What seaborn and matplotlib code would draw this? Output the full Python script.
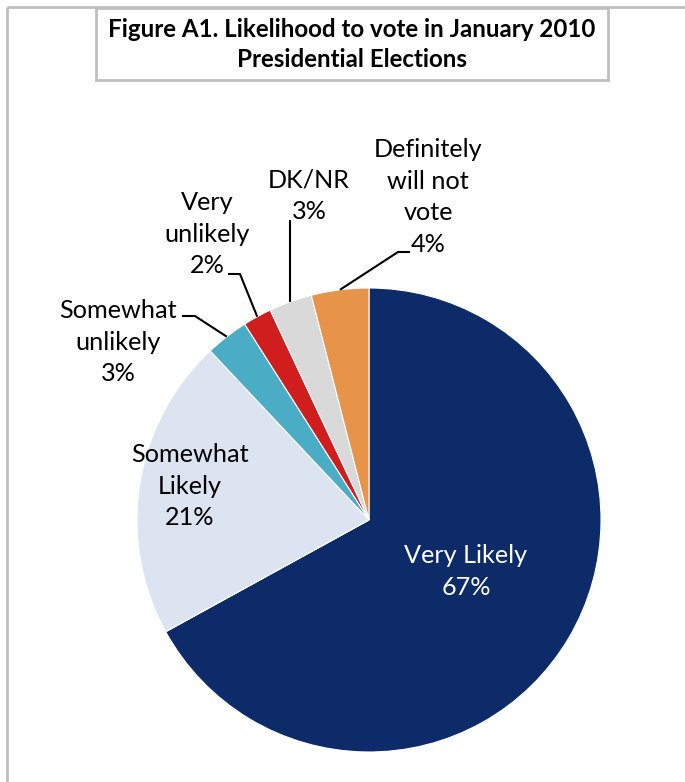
import matplotlib
matplotlib.use("Agg")
import matplotlib.pyplot as plt
from matplotlib.patches import Rectangle
import numpy as np
import seaborn as sns

# Survey answers, in the order the slices run clockwise from 12 o'clock
categories = ["Very Likely", "Somewhat Likely", "Somewhat unlikely",
              "Very unlikely", "DK/NR", "Definitely will not vote"]
category_lines = [["Very Likely"], ["Somewhat", "Likely"], ["Somewhat", "unlikely"],
                  ["Very", "unlikely"], ["DK/NR"], ["Definitely", "will not", "vote"]]
shares = [67, 21, 3, 2, 3, 4]
slice_colors = ["#0d2a69", "#dce3f1", "#4bacc6", "#d01e1e", "#d9d9d9", "#e8934a"]
title_lines = ["Figure A1. Likelihood to vote in January 2010", "Presidential Elections"]

W, H = 685, 782
sns.set_theme(style="white")
plt.rcParams["font.family"] = ["Lato", "DejaVu Sans"]

fig = plt.figure(figsize=(W / 100, H / 100), dpi=100)
ax = fig.add_axes([0, 0, 1, 1])


def py(y):
    """Convert a top-down pixel row into the axes' bottom-up coordinate."""
    return H - y


cx, cy, radius = 369, py(520), 232
wedges, _ = ax.pie(shares, colors=sns.color_palette(slice_colors), startangle=90,
                   counterclock=False, center=(cx, cy), radius=radius,
                   wedgeprops=dict(edgecolor="white", linewidth=0.8))
ax.set_xlim(0, W)
ax.set_ylim(0, H)
ax.set_aspect("equal")
ax.axis("off")

# outer frame (top and left edges visible) and title box
frame_kw = dict(color="#bfbfbf", lw=2, solid_capstyle="butt")
ax.plot([7, 7], [py(7), 0], **frame_kw)
ax.plot([7, W], [py(7), py(7)], **frame_kw)
ax.add_patch(Rectangle((96, py(80)), 608 - 96, 80 - 8, fill=False,
                       edgecolor="#bfbfbf", lw=2))
for i, line in enumerate(title_lines):
    ax.text(352, py(37 + 30 * i), line, ha="center", va="baseline",
            fontsize=17.4, fontweight="bold", color="black")

# label placement: centre x, first baseline, colour, leader (elbow, end) or None
LINE_STEP = 31.7
label_layout = {
    0: (466, 563, "white", None),
    1: (190, 462, "black", None),
    2: (118, 318, "black", ((195, 316), (182, 316))),
    3: (207, 210, "black", ((240, 274), (228, 274))),
    4: (309, 187, "black", "vertical"),
    5: (428, 157, "black", ((398, 252), (410, 252))),
}

for idx, (x, base, col, leader) in label_layout.items():
    lines = category_lines[idx] + [f"{shares[idx]}%"]
    for j, txt in enumerate(lines):
        ax.text(x, py(base + j * LINE_STEP), txt, ha="center", va="baseline",
                fontsize=18.2, color=col)
    if leader is None:
        continue
    w = wedges[idx]
    mid = np.deg2rad((w.theta1 + w.theta2) / 2)
    rx, ry = cx + radius * np.cos(mid), cy + radius * np.sin(mid)
    if leader == "vertical":
        xs, ys = [rx, rx], [ry, py(220)]
    else:
        (ex, ey), (tx, ty) = leader
        xs, ys = [rx, ex, tx], [ry, py(ey), py(ty)]
    ax.plot(xs, ys, color="black", lw=1.5, solid_capstyle="butt")

fig.savefig("out.png", dpi=100, facecolor="white")
